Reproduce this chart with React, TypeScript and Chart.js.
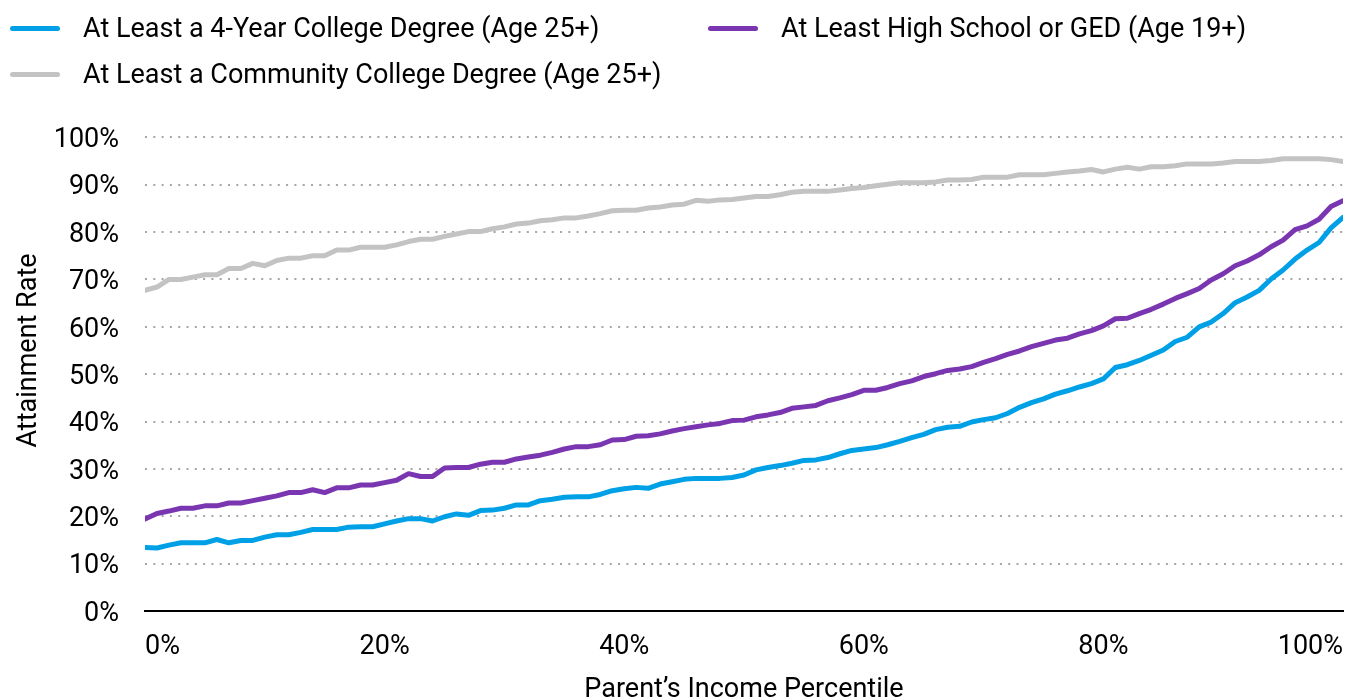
import React, { useEffect, useRef } from 'react';
import { Chart, registerables } from 'chart.js';

Chart.register(...registerables);

// Parent's income percentile (x categories)
const PERCENTILES: number[] = Array.from({ length: 101 }, (_, i) => i);
const X_TICKS = [0, 20, 40, 60, 80, 100];
const Y_TICKS = [0, 10, 20, 30, 40, 50, 60, 70, 80, 90, 100];

const LABEL_FOUR_YEAR = 'At Least a 4-Year College Degree (Age 25+)';
const LABEL_HIGH_SCHOOL = 'At Least High School or GED (Age 19+)';
const LABEL_COMMUNITY = 'At Least a Community College Degree (Age 25+)';

const FOUR_YEAR = [
  13.4, 13.3, 13.9, 14.4, 14.4, 14.4, 15.1, 14.4, 14.9, 14.9,
  15.6, 16.1, 16.1, 16.6, 17.2, 17.2, 17.2, 17.7, 17.8, 17.8,
  18.4, 19.0, 19.5, 19.5, 19.0, 19.9, 20.5, 20.2, 21.2, 21.3,
  21.7, 22.4, 22.4, 23.3, 23.6, 24.0, 24.1, 24.1, 24.6, 25.4,
  25.8, 26.1, 25.9, 26.8, 27.3, 27.8, 28.0, 28.0, 28.0, 28.2,
  28.7, 29.8, 30.3, 30.7, 31.2, 31.8, 31.9, 32.4, 33.2, 33.9,
  34.2, 34.5, 35.1, 35.8, 36.6, 37.3, 38.3, 38.8, 39.0, 39.9,
  40.4, 40.8, 41.7, 43.0, 44.0, 44.8, 45.8, 46.5, 47.3, 48.0,
  49.0, 51.4, 52.0, 52.9, 54.0, 55.1, 56.9, 57.8, 60.0, 61.0,
  62.8, 65.1, 66.3, 67.7, 70.1, 72.0, 74.3, 76.2, 77.8, 80.9,
  83.1,
];

const HIGH_SCHOOL = [
  19.4, 20.6, 21.1, 21.7, 21.7, 22.2, 22.2, 22.8, 22.8, 23.3,
  23.8, 24.3, 25.0, 25.0, 25.6, 25.0, 26.0, 26.0, 26.6, 26.6,
  27.1, 27.6, 29.0, 28.4, 28.4, 30.2, 30.3, 30.3, 31.0, 31.4,
  31.4, 32.1, 32.5, 32.9, 33.5, 34.2, 34.7, 34.7, 35.1, 36.1,
  36.2, 36.9, 37.0, 37.4, 38.0, 38.5, 38.9, 39.3, 39.6, 40.2,
  40.3, 41.0, 41.4, 41.9, 42.8, 43.1, 43.4, 44.4, 45.0, 45.7,
  46.6, 46.6, 47.2, 48.0, 48.6, 49.5, 50.1, 50.8, 51.1, 51.6,
  52.5, 53.3, 54.2, 54.9, 55.8, 56.5, 57.2, 57.6, 58.5, 59.2,
  60.2, 61.7, 61.8, 62.8, 63.7, 64.8, 66.0, 67.0, 68.1, 69.9,
  71.2, 72.9, 73.9, 75.2, 76.9, 78.3, 80.5, 81.3, 82.7, 85.4,
  86.6,
];

const COMMUNITY = [
  67.7, 68.4, 70.0, 70.0, 70.5, 71.0, 71.0, 72.3, 72.3, 73.4,
  72.9, 74.0, 74.5, 74.5, 75.0, 75.0, 76.2, 76.2, 76.8, 76.8,
  76.8, 77.3, 78.0, 78.5, 78.5, 79.1, 79.6, 80.1, 80.1, 80.7,
  81.1, 81.7, 81.9, 82.4, 82.6, 83.0, 83.0, 83.4, 83.9, 84.5,
  84.6, 84.6, 85.1, 85.3, 85.7, 85.9, 86.7, 86.5, 86.8, 86.9,
  87.2, 87.5, 87.5, 87.9, 88.4, 88.6, 88.6, 88.6, 88.9, 89.2,
  89.4, 89.8, 90.1, 90.4, 90.4, 90.4, 90.6, 91.0, 91.0, 91.1,
  91.6, 91.6, 91.6, 92.1, 92.1, 92.1, 92.4, 92.7, 92.9, 93.2,
  92.7, 93.3, 93.7, 93.3, 93.8, 93.8, 94.0, 94.4, 94.4, 94.4,
  94.6, 94.9, 94.9, 94.9, 95.1, 95.5, 95.5, 95.5, 95.5, 95.3,
  94.9,
];

const BLUE = '#00A0E6';
const PURPLE = '#7A35B0';
const GRAY = '#C3C3C3';
const FONT = 'Roboto';
const FONT_SIZE = 27;

const toPoints = (vals: number[]) => vals.map((v, i) => ({ x: PERCENTILES[i], y: v }));

const legendItems = [
  { label: LABEL_FOUR_YEAR, color: BLUE, left: 10, top: 28 },
  { label: LABEL_HIGH_SCHOOL, color: PURPLE, left: 708, top: 28 },
  { label: LABEL_COMMUNITY, color: GRAY, left: 10, top: 74 },
];

export default function App() {
  const canvasRef = useRef<HTMLCanvasElement | null>(null);

  useEffect(() => {
    document.body.style.margin = '0';
    const canvas = canvasRef.current;
    if (!canvas) return;
    const lineDs = (label: string, data: number[], color: string) => ({
      label,
      data: toPoints(data),
      borderColor: color,
      backgroundColor: color,
      borderWidth: 5,
      pointRadius: 0,
      pointHoverRadius: 0,
      tension: 0,
      borderJoinStyle: 'round' as const,
      borderCapStyle: 'round' as const,
      fill: false,
    });
    const chart = new Chart(canvas, {
      type: 'line',
      data: {
        datasets: [
          lineDs(LABEL_FOUR_YEAR, FOUR_YEAR, BLUE),
          lineDs(LABEL_HIGH_SCHOOL, HIGH_SCHOOL, PURPLE),
          lineDs(LABEL_COMMUNITY, COMMUNITY, GRAY),
        ],
      },
      options: {
        responsive: false,
        maintainAspectRatio: false,
        animation: false,
        devicePixelRatio: 1,
        layout: { padding: { top: 90, right: 21, bottom: 0, left: 0 } },
        plugins: {
          legend: { display: false },
          tooltip: { enabled: false },
        },
        scales: {
          x: {
            type: 'linear',
            min: 0,
            max: 100,
            position: 'bottom',
            grid: { display: false, drawTicks: false },
            border: { display: true, color: '#000000', width: 2 },
            afterBuildTicks: (s: any) => {
              s.ticks = X_TICKS.map((v) => ({ value: v }));
            },
            afterFit: (s: any) => {
              s.height = 89;
            },
            ticks: {
              align: 'inner',
              padding: 20,
              color: '#000000',
              maxRotation: 0,
              autoSkip: false,
              font: { family: FONT, size: FONT_SIZE },
              callback: (v: any) => `${v}%`,
            },
            title: {
              display: true,
              text: 'Parent’s Income Percentile',
              color: '#000000',
              font: { family: FONT, size: FONT_SIZE },
              padding: { top: 0, bottom: -6 },
            },
          },
          y: {
            min: 0,
            max: 110,
            afterBuildTicks: (s: any) => {
              s.ticks = Y_TICKS.map((v) => ({ value: v }));
            },
            afterFit: (s: any) => {
              s.width = 145;
            },
            grid: {
              drawTicks: false,
              lineWidth: 2,
              color: (ctx: any) => (ctx.tick && ctx.tick.value === 0 ? 'rgba(0,0,0,0)' : '#A6A6A6'),
            },
            border: { display: false, dash: [2, 6.3] },
            ticks: {
              padding: 26,
              labelOffset: 3,
              color: '#000000',
              font: { family: FONT, size: FONT_SIZE },
              callback: (v: any) => `${v}%`,
            },
            title: {
              display: true,
              text: 'Attainment Rate',
              color: '#000000',
              font: { family: FONT, size: FONT_SIZE },
              padding: { top: 13, bottom: 0 },
            },
          },
        },
      },
    });
    return () => chart.destroy();
  }, []);

  return (
    <div style={{ position: 'relative', width: 1364, height: 700, overflow: 'hidden' }}>
      <canvas ref={canvasRef} width={1364} height={700} style={{ display: 'block' }} />
      {legendItems.map((it) => (
        <div
          key={it.label}
          style={{
            position: 'absolute',
            left: it.left,
            top: it.top - 16,
            height: 32,
            display: 'flex',
            alignItems: 'center',
            whiteSpace: 'nowrap',
          }}
        >
          <span
            style={{
              display: 'inline-block',
              width: 50,
              height: 5,
              borderRadius: 3,
              background: it.color,
              marginRight: 23,
            }}
          />
          <span style={{ fontFamily: FONT, fontSize: FONT_SIZE, lineHeight: '32px', color: '#000' }}>{it.label}</span>
        </div>
      ))}
    </div>
  );
}
